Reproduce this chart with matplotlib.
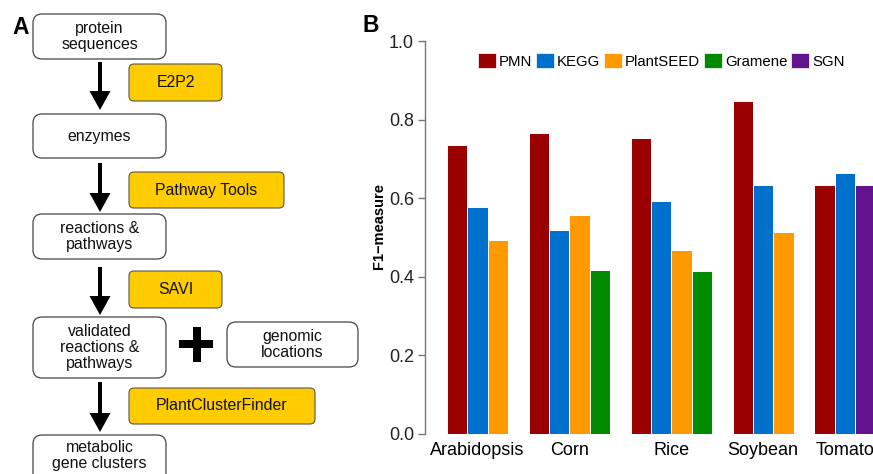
"""Figura: flujo de anotacion (A) y F1 por base de datos (B)."""

import matplotlib.pyplot as plt
from matplotlib.patches import FancyBboxPatch, FancyArrow, Rectangle, Patch

plt.rcParams["font.family"] = ["Liberation Sans", "DejaVu Sans"]

# datos del panel B
species = ["Arabidopsis", "Corn", "Rice", "Soybean", "Tomato"]
databases = ["PMN", "KEGG", "PlantSEED", "Gramene", "SGN"]
pmn = [0.735, 0.765, 0.753, 0.847, 0.634]
kegg = [0.577, 0.519, 0.593, 0.633, 0.665]
plantseed = [0.493, 0.557, 0.468, 0.515, None]
gramene = [None, 0.418, 0.415, None, None]
sgn = [None, None, None, None, 0.634]
colors = ["#9B0000", "#0070CD", "#FF9900", "#008A00", "#63138E"]

# textos del panel A
steps = ["protein\nsequences", "enzymes", "reactions &\npathways",
         "validated\nreactions &\npathways", "metabolic\ngene clusters"]
tools = ["E2P2", "Pathway Tools", "SAVI", "PlantClusterFinder"]
extra = "genomic\nlocations"

W, H = 873, 474
fig = plt.figure(figsize=(W / 100, H / 100), dpi=100)

# ---- Panel A (coordenadas en pixeles) ----
axa = fig.add_axes([0, 0, 1, 1])
axa.set_xlim(0, W)
axa.set_ylim(H, 0)
axa.axis("off")

step_boxes = [(14, 59), (114, 158), (214, 259), (317, 378), (435, 484)]
for (y0, y1), label in zip(step_boxes, steps):
    axa.add_patch(FancyBboxPatch((33, y0), 133, y1 - y0,
                                 boxstyle="round,pad=0,rounding_size=9",
                                 fc="white", ec="#444444", lw=0.9))
    yc = (y0 + y1) / 2 if label != steps[-1] else 455.5
    axa.text(99.5, yc, label, ha="center", va="center", fontsize=11.4,
             linespacing=1.05, color="#111111")

tool_boxes = [(64, 101, 93), (172, 208, 155), (271, 308, 93), (388, 424, 186)]
for (y0, y1, w), label in zip(tool_boxes, tools):
    axa.add_patch(FancyBboxPatch((129, y0), w, y1 - y0,
                                 boxstyle="round,pad=0,rounding_size=5",
                                 fc="#FFCC00", ec="#555555", lw=0.8))
    axa.text(129 + w / 2, (y0 + y1) / 2, label, ha="center", va="center",
             fontsize=11.4, color="#111111")

arrows = [(62, 110), (163, 212), (267, 315), (382, 432)]
for y0, y1 in arrows:
    axa.add_patch(FancyArrow(100, y0, 0, y1 - y0, width=4, head_width=21,
                             head_length=19, length_includes_head=True,
                             color="black", lw=0))

# signo + y caja extra
axa.add_patch(Rectangle((179, 340), 34, 8, color="black", lw=0))
axa.add_patch(Rectangle((193, 327), 8, 35, color="black", lw=0))
axa.add_patch(FancyBboxPatch((227, 322), 131, 45,
                             boxstyle="round,pad=0,rounding_size=9",
                             fc="white", ec="#444444", lw=0.9))
axa.text(292.5, 344.5, extra, ha="center", va="center", fontsize=11.4,
         linespacing=1.05, color="#111111")

fig.text(12 / W, 1 - 28 / H, "A", fontsize=16.5, fontweight="bold", va="center")
fig.text(362 / W, 1 - 26 / H, "B", fontsize=16.5, fontweight="bold", va="center")

# ---- Panel B ----
slot_px = 20.4
left_px, right_px = 425, 905
first_bar_px = 447
bottom_px, top_px = 434, 41
axb = fig.add_axes([left_px / W, 1 - bottom_px / H,
                    (right_px - left_px) / W, (bottom_px - top_px) / H])
axb.set_xlim(-(first_bar_px - left_px) / slot_px,
             (right_px - first_bar_px) / slot_px)
axb.set_ylim(0, 1.0)

series = [pmn, kegg, plantseed, gramene, sgn]
slot = 0
centers = []
for i in range(len(species)):
    start = slot
    for vals, col in zip(series, colors):
        if vals[i] is not None:
            axb.bar(slot + 0.5, vals[i], width=1.0, color=col,
                    edgecolor="#FFFFFF", linewidth=0.7)
            slot += 1
    centers.append((start + slot) / 2)
    slot += 1

axb.set_xticks(centers)
axb.set_xticklabels(species, fontsize=13)
axb.tick_params(axis="x", length=0, pad=6)
axb.set_yticks([0.0, 0.2, 0.4, 0.6, 0.8, 1.0])
axb.set_yticklabels(["0.0", "0.2", "0.4", "0.6", "0.8", "1.0"], fontsize=13,
                    color="#222222")
axb.tick_params(axis="y", length=5, width=1, color="#777777", pad=3)
for s in ["top", "right", "bottom"]:
    axb.spines[s].set_visible(False)
axb.spines["left"].set_color("#777777")
axb.spines["left"].set_linewidth(1)

fig.text(379 / W, 1 - 226 / H, "F1\u2212measure", rotation=90, fontsize=10.5,
         fontweight="bold", ha="center", va="center")

handles = [Patch(fc=c, ec="#FFFFFF", lw=0.5) for c in colors]
fig.legend(handles, databases, loc="center left",
           bbox_to_anchor=(478 / W, 1 - 61 / H), ncol=5, frameon=False,
           fontsize=10.8, handlelength=1.2, handleheight=1.15,
           handletextpad=0.2, columnspacing=0.25, borderpad=0,
           borderaxespad=0)

fig.savefig("out.png", dpi=100)
